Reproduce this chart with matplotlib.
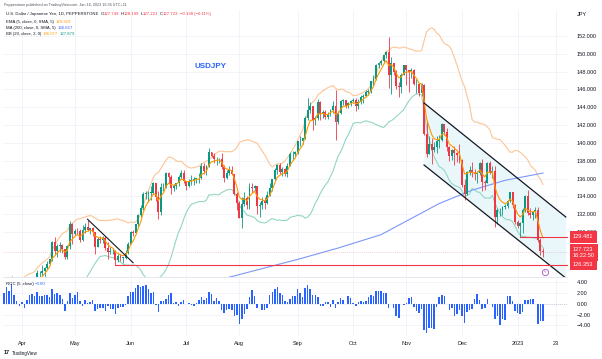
import matplotlib
matplotlib.use("Agg")
import matplotlib.pyplot as plt
from matplotlib.ticker import FuncFormatter
import numpy as np
import pandas as pd

plt.rcParams["font.family"] = ["Liberation Sans", "DejaVu Sans"]

# ---------------- data (USDJPY daily, Pepperstone) ----------------
start_date = "2022-03-01"
first_open = 114.97

closes = [
    114.95, 115.50, 115.50, 114.80, 115.30, 115.70, 115.85, 116.15, 117.30, 118.15, 118.30, 118.75, 118.60, 119.15, 119.45, 120.80, 121.15, 122.30, 122.05, 123.85, 122.85, 121.85, 121.70,
    122.50, 122.80, 123.60, 123.80, 123.95, 124.35, 125.35, 125.40, 125.60, 126.00, 126.40, 126.95, 128.90, 127.85, 128.40, 128.50, 128.10, 127.25, 128.40, 130.85, 129.75,
    130.15, 130.10, 129.10, 130.20, 130.55, 130.25, 130.45, 129.95, 128.35, 129.20, 129.15, 129.35, 128.25, 127.80, 127.85, 127.90, 126.85, 127.35, 127.10, 127.10, 127.60, 128.70,
    130.00, 129.85, 130.85, 131.90, 132.65, 134.25, 134.35, 134.40, 134.40, 135.45, 133.95, 132.20, 135.00, 135.10, 136.65, 136.20, 134.90, 135.20, 135.45, 136.15, 136.60, 135.75,
    135.20, 135.70, 135.85, 135.90, 136.05, 136.10, 137.45, 136.85, 137.40, 138.95, 138.55, 138.15, 138.20, 138.20, 137.35, 136.10, 136.65, 136.95, 136.55, 134.25, 133.25,
    131.60, 133.15, 133.85, 133.00, 135.00, 134.95, 135.15, 132.90, 133.00, 133.45, 133.30, 134.20, 134.95, 135.90, 137.00, 137.50, 136.75, 137.10, 136.55, 137.45, 138.75, 138.75, 138.95,
    140.20, 140.20, 140.50, 142.80, 143.75, 144.10, 142.55, 142.85, 144.55, 143.20, 143.50, 142.90, 143.20, 143.75, 144.10, 142.40, 143.35, 144.75, 144.80, 144.15, 144.45, 144.75,
    144.85, 144.10, 144.60, 145.15, 145.30, 145.70, 145.80, 146.90, 147.20, 148.70, 149.00, 149.25, 149.85, 150.15, 147.65, 148.95, 148.00, 146.40, 146.30, 147.60, 148.70,
    148.20, 147.95, 148.20, 146.60, 146.60, 145.65, 146.45, 141.00, 138.75, 139.90, 139.25, 139.50, 140.20, 140.35, 142.15, 141.20, 139.55, 138.55, 139.20, 138.90, 138.65, 138.05,
    135.30, 134.30, 136.75, 137.00, 136.60, 136.50, 136.60, 137.70, 135.60, 135.50, 137.75, 136.65, 136.90, 131.70, 132.45, 132.45, 132.80, 132.90, 133.50, 134.45, 133.05, 131.10,
    130.70, 131.00, 132.45, 134.05, 132.10, 131.90, 132.25, 132.45, 129.15, 127.861, 127.723,
]
highs = [
    115.55, 115.60, 115.80, 115.60, 115.50, 115.80, 116.05, 116.35, 117.35, 118.30, 118.45, 119.10, 119.05, 119.40, 119.50, 120.95, 121.40, 122.40, 122.45, 125.10, 124.30, 123.20, 122.40,
    122.80, 123.05, 123.70, 123.95, 124.05, 124.70, 125.75, 125.65, 126.30, 126.10, 126.70, 127.00, 129.00, 129.40, 128.70, 128.85, 128.60, 128.00, 128.55, 131.25, 131.00,
    130.30, 130.40, 130.30, 130.80, 131.00, 131.35, 130.50, 130.60, 130.00, 129.40, 129.60, 129.55, 129.50, 128.90, 128.30, 128.25, 127.95, 127.50, 127.55, 127.25, 128.00, 128.90,
    130.10, 130.25, 130.95, 132.00, 133.00, 134.45, 134.55, 134.60, 135.20, 135.60, 135.55, 134.65, 135.45, 135.45, 136.70, 136.70, 136.45, 135.40, 135.55, 136.35, 137.00, 136.95,
    135.70, 135.90, 136.35, 136.15, 136.10, 136.60, 137.70, 137.80, 137.50, 139.40, 139.00, 138.90, 138.40, 138.35, 138.85, 137.50, 136.95, 137.45, 137.45, 136.55, 134.50,
    133.50, 133.90, 134.50, 134.00, 135.50, 135.55, 135.30, 135.20, 133.40, 133.90, 133.90, 134.65, 135.45, 136.00, 137.20, 137.65, 137.70, 137.25, 137.15, 137.75, 139.00, 139.05, 139.10,
    140.25, 140.80, 140.60, 143.05, 144.99, 144.55, 144.10, 143.00, 144.95, 144.70, 143.75, 143.70, 143.45, 143.85, 144.70, 145.90, 143.60, 144.80, 144.90, 144.85, 144.60, 144.85,
    145.00, 145.00, 144.90, 145.40, 145.45, 145.90, 146.00, 146.95, 147.65, 148.85, 149.10, 149.30, 149.90, 150.30, 151.94, 149.70, 149.00, 148.15, 146.80, 147.85, 148.80,
    148.80, 148.10, 148.40, 148.35, 147.15, 146.70, 146.75, 146.65, 142.50, 140.80, 140.60, 140.15, 140.75, 140.90, 142.25, 142.05, 141.70, 139.65, 139.30, 139.65, 139.00, 139.90,
    138.15, 135.95, 136.90, 137.40, 137.85, 137.10, 136.90, 137.90, 138.15, 135.80, 137.90, 138.00, 137.40, 137.45, 132.70, 132.75, 132.95, 133.15, 133.60, 134.50, 134.40, 133.20,
    131.35, 131.15, 132.70, 134.10, 134.77, 132.65, 132.35, 132.85, 132.85, 129.30, 128.199,
]
lows = [
    114.70, 114.85, 115.20, 114.65, 114.70, 115.00, 115.50, 115.75, 116.00, 117.10, 117.70, 118.10, 118.30, 118.55, 118.90, 119.20, 120.60, 121.00, 121.20, 122.00, 122.40, 121.20, 121.30,
    121.60, 122.30, 122.50, 123.30, 123.40, 123.70, 124.10, 124.70, 125.10, 125.00, 125.90, 126.30, 126.80, 127.50, 127.20, 127.80, 127.70, 126.95, 126.95, 128.10, 128.70,
    129.70, 129.80, 128.90, 128.95, 129.85, 130.10, 129.75, 129.60, 127.55, 128.30, 128.80, 128.80, 128.00, 127.00, 127.50, 127.50, 126.353, 126.65, 126.80, 126.55, 127.00, 127.50,
    128.65, 129.55, 129.75, 130.70, 131.70, 132.50, 133.70, 133.40, 133.60, 134.30, 133.50, 131.50, 131.90, 134.60, 134.90, 135.50, 134.30, 134.55, 134.85, 135.20, 136.00, 135.50,
    134.75, 135.00, 135.30, 135.30, 135.55, 135.50, 136.00, 136.50, 136.45, 137.30, 138.40, 137.80, 137.50, 137.70, 137.10, 135.60, 135.95, 136.35, 136.35, 134.10, 132.50,
    131.55, 130.40, 132.90, 132.60, 132.55, 134.40, 134.60, 132.00, 131.70, 132.60, 132.55, 133.20, 134.00, 134.60, 135.80, 136.55, 136.50, 136.25, 136.25, 136.20, 137.80, 138.15, 138.40,
    138.80, 139.70, 139.90, 140.40, 142.60, 143.35, 141.50, 142.05, 142.60, 142.55, 142.80, 142.65, 142.70, 143.05, 143.40, 140.35, 142.10, 143.20, 144.30, 143.90, 143.90, 144.15,
    144.50, 143.55, 143.85, 144.35, 144.50, 145.20, 145.40, 145.65, 146.40, 147.10, 148.40, 148.70, 149.10, 149.50, 146.20, 145.50, 147.60, 146.05, 145.10, 145.65, 147.60,
    146.55, 145.70, 147.30, 146.55, 145.65, 145.30, 145.30, 140.85, 138.45, 138.80, 137.65, 139.00, 138.85, 139.45, 140.20, 140.90, 139.10, 138.00, 138.05, 137.50, 137.85, 137.75,
    135.10, 133.60, 134.10, 136.40, 136.20, 135.80, 135.50, 136.40, 134.65, 134.75, 135.50, 136.50, 136.10, 130.60, 130.95, 131.85, 131.90, 132.55, 132.65, 133.40, 132.70, 130.85,
    130.45, 129.481, 129.90, 132.20, 131.90, 131.55, 131.35, 131.60, 128.85, 127.45, 127.221,
]

# 200 MA
ma200_dates = ["2022-07-13", "2022-07-27", "2022-09-02", "2022-09-23", "2022-10-18", "2022-11-18", "2022-12-07", "2022-12-26", "2023-01-16"]
ma200_vals = [124.3, 125.0, 127.0, 128.2, 129.7, 133.2, 134.7, 135.8, 136.617]

# drawings
channel_dates = ["2022-11-10", "2023-01-27"]
channel_upper = [144.48, 131.69]
channel_lower = [137.52, 124.84]
may_line_dates = ["2022-05-09", "2022-06-02"]
may_line_prices = [131.43, 126.55]
level_prices = [129.481, 126.353]
level_dates = ["2023-01-03", "2022-05-24"]

tick_dates = ["2022-04-01", "2022-05-02", "2022-06-01", "2022-07-01", "2022-08-01", "2022-09-01",
              "2022-10-03", "2022-11-01", "2022-12-01", "2023-01-02", "2023-01-23"]
tick_labels = ["Apr", "May", "Jun", "Jul", "Aug", "Sep", "Oct", "Nov", "Dec", "2023", "23"]
price_ticks = [130, 132, 134, 136, 138, 140, 142, 144, 146, 148, 150, 152]
roc_ticks = [-4, -2, 0, 2, 4]

assert len(closes) == len(highs) == len(lows)

# ---------------- colours ----------------
GREEN = "#089981"
RED = "#f23645"
DARK = "#131722"
BLUE = "#2962ff"
EMA_C = "#ff9800"
BB_UP = "#fcc596"
BB_LO = "#94d6c0"
MA_C = "#7d98f7"
GRID = "#f0f3fa"

# ---------------- derived series ----------------
c = np.array(closes)
o = np.r_[first_open, c[:-1]]
h = np.maximum(np.array(highs), np.maximum(o, c))
l = np.minimum(np.array(lows), np.minimum(o, c))
s = pd.Series(c)
ema5 = s.ewm(span=5, adjust=False).mean()
basis = s.rolling(20).mean()
dev = s.rolling(20).std(ddof=0)
bb_up = basis + 2 * dev
bb_lo = basis - 2 * dev
roc = (s / s.shift(5) - 1) * 100

all_dates = pd.bdate_range(start_date, periods=len(c) + 20)
x = np.arange(len(c))


def idx(dates):
    return all_dates.get_indexer(pd.to_datetime(dates)).astype(float)


# ---------------- figure ----------------
W, H = 602, 359
fig = plt.figure(figsize=(W / 100, H / 100), dpi=100)
fig.patch.set_facecolor("white")


def fx(px):
    return px / W


def fy(py):
    return 1 - py / H


ax = fig.add_axes([fx(3), fy(277), fx(567) - fx(3), fy(10) - fy(277)])
ax_roc = fig.add_axes([fx(3), fy(335), fx(567) - fx(3), fy(279) - fy(335)], sharex=ax)

x_apr = idx(["2022-04-01"])[0]
ax.set_xlim(x_apr - 7.43, x_apr + 215.5)
ax.set_ylim(124.95, 154.92)
ax_roc.set_ylim(-5.77, 4.56)

# candles
up = c >= o
body_lo = np.minimum(o, c)
body_h = np.maximum(np.abs(c - o), 0.04)
for mask, col in [(up, GREEN), (~up, RED)]:
    ax.vlines(x[mask], l[mask], h[mask], color=col, lw=0.6, zorder=3)
    ax.bar(x[mask], body_h[mask], bottom=body_lo[mask], width=0.75, color=col, lw=0, zorder=3)

# indicators
ax.plot(x, bb_up, color=BB_UP, lw=0.8, zorder=2)
ax.plot(x, bb_lo, color=BB_LO, lw=0.8, zorder=2)
ax.plot(idx(ma200_dates), ma200_vals, color=MA_C, lw=0.8, zorder=2)
ax.plot(x, ema5, color=EMA_C, lw=0.8, zorder=4)

# channel drawing
cx = idx(channel_dates)
ax.fill_between(cx, channel_lower, channel_upper, color="#e9f7fb", lw=0, zorder=1)
ax.plot(cx, channel_upper, color=DARK, lw=0.9, zorder=5)
ax.plot(cx, channel_lower, color=DARK, lw=0.9, zorder=5)
ax.plot(idx(may_line_dates), may_line_prices, color=DARK, lw=0.8, zorder=5)

# horizontal levels
x_right = ax.get_xlim()[1]
for p, d in zip(level_prices, level_dates):
    ax.plot([idx([d])[0], x_right], [p, p], color=RED, lw=0.8, zorder=5, clip_on=False)
ax.axhline(c[-1], color=RED, lw=0.5, ls=(0, (1, 2)), alpha=0.45, zorder=1)

# event marker
ax.plot(x[-1] + 0.8, 0.019, transform=ax.get_xaxis_transform(), marker="o", ms=4.5,
        mfc="white", mec="#b04fc9", mew=0.6, zorder=6, clip_on=False)
ax.text(x[-1] + 0.8, 0.019, "ϟ", transform=ax.get_xaxis_transform(), fontsize=3,
        color="#b04fc9", ha="center", va="center", zorder=7)

ax.text(0.34, 0.787, "USDJPY", transform=ax.transAxes, color=BLUE, fontsize=5.8,
        fontweight="bold", va="center")

# ROC histogram
ax_roc.bar(x, roc, width=0.6, color=BLUE, lw=0)
ax_roc.plot([x[-1], x_right], [0, 0], color="#b2b5be", lw=0.5, ls=(0, (1, 2)))

# axes styling
for a in (ax, ax_roc):
    a.set_facecolor("white")
    for sp in a.spines.values():
        sp.set_visible(False)
    a.yaxis.tick_right()
    a.tick_params(axis="y", length=0, pad=7, labelsize=4, labelcolor=DARK)
    a.tick_params(axis="x", length=0)
    a.set_xticks(idx(tick_dates))
    a.grid(color=GRID, lw=0.6)
    a.set_axisbelow(True)
ax.spines["bottom"].set_visible(True)
ax.spines["bottom"].set_color("#e0e3eb")
ax.spines["bottom"].set_linewidth(0.6)
ax.tick_params(axis="x", labelbottom=False)
ax_roc.set_xticklabels(tick_labels)
ax_roc.tick_params(axis="x", labelsize=4, labelcolor=DARK, pad=4)

ax.set_yticks(price_ticks)
ax.yaxis.set_major_formatter(FuncFormatter(lambda v, _: f"{v:.3f}"))
ax_roc.set_yticks(roc_ticks)
ax_roc.yaxis.set_major_formatter(FuncFormatter(lambda v, _: f"{v:.2f}".replace("-", "\u2212")))


# price labels on the right scale
def price_box(price, text):
    ypx = ax.transData.transform((0, price))[1]
    fig.text(fx(573), ypx / H, text, color="white", fontsize=4.1, va="center", ha="left",
             linespacing=1.15,
             bbox=dict(boxstyle="square,pad=0.6", fc=RED, ec="none"))


price_box(level_prices[0], "129.481")
price_box(c[-1], "127.723\n16:22:50")
price_box(level_prices[1], "126.353")
fig.text(fx(577), fy(14), "JPY", color=DARK, fontsize=4, va="center")

# legend lines
renderer = fig.canvas.get_renderer()


def write_line(xp, yp, pieces, size=3.1):
    for txt, col, gap in pieces:
        t = fig.text(fx(xp), fy(yp), txt, color=col, fontsize=size, va="center", ha="left")
        xp += t.get_window_extent(renderer=renderer).width + gap


write_line(4, 5, [("Pepperstone published on TradingView.com, Jan 16, 2023 16:36 UTC+11", "#50535e", 0)], size=2.7)
write_line(6, 14, [("U.S. Dollar / Japanese Yen, 1D, PEPPERSTONE", DARK, 2),
                   ("O", DARK, 0), ("127.749", RED, 1.5), ("H", DARK, 0), ("128.199", RED, 1.5),
                   ("L", DARK, 0), ("127.221", RED, 1.5), ("C", DARK, 0), ("127.723", RED, 1.5),
                   ("\u22120.138 (\u22120.11%)", RED, 0)])
write_line(6, 22, [("EMA (5, close, 0, SMA, 5)", DARK, 1.5), (f"{ema5.iloc[-1]:.3f}", EMA_C, 0)])
write_line(6, 28, [("MA (200, close, 0, SMA, 5)", DARK, 1.5), (f"{ma200_vals[-1]:.3f}", BLUE, 0)])
write_line(6, 34, [("BB (20, close, 2, 0)", DARK, 1.5), ("136.077", EMA_C, 1.5), ("127.879", GREEN, 0)])
write_line(6, 284, [("ROC (5, close)", DARK, 1.5), ("\u22123.60", BLUE, 0)])

# TradingView logo
fig.text(fx(4), fy(353), "17", color=DARK, fontsize=4, fontweight="bold", va="center")
fig.text(fx(12), fy(353), "TradingView", color=DARK, fontsize=3.3, va="center")

fig.savefig("out.png", dpi=100)
